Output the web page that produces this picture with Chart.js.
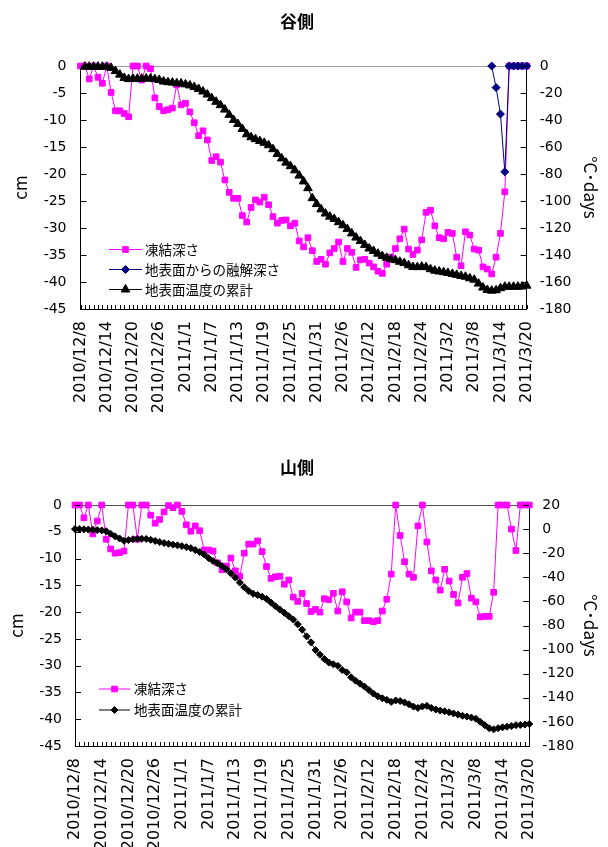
<!DOCTYPE html>
<html>
<head>
<meta charset="utf-8">
<script src="https://cdn.jsdelivr.net/npm/chart.js@4.4.1/dist/chart.umd.min.js"></script>
<style>
  html, body { margin: 0; padding: 0; background: #fff; width: 608px; height: 847px; overflow: hidden; }
  .panel { position: absolute; left: 0; width: 608px; }
  #valleyPanel { top: 0; height: 430px; }
  #slopePanel { top: 446px; height: 401px; }
  canvas { display: block; }
</style>
</head>
<body>
<div class="panel" id="valleyPanel"><canvas id="valleyChart" width="608" height="430"></canvas></div>
<div class="panel" id="slopePanel"><canvas id="slopeChart" width="608" height="401"></canvas></div>
<script>
// Daily observation dates, 2010/12/8 - 2011/3/20
const dateLabels = [
  '2010/12/8','2010/12/9','2010/12/10','2010/12/11','2010/12/12','2010/12/13','2010/12/14','2010/12/15',
  '2010/12/16','2010/12/17','2010/12/18','2010/12/19','2010/12/20','2010/12/21','2010/12/22','2010/12/23',
  '2010/12/24','2010/12/25','2010/12/26','2010/12/27','2010/12/28','2010/12/29','2010/12/30','2010/12/31',
  '2011/1/1','2011/1/2','2011/1/3','2011/1/4','2011/1/5','2011/1/6','2011/1/7','2011/1/8','2011/1/9',
  '2011/1/10','2011/1/11','2011/1/12','2011/1/13','2011/1/14','2011/1/15','2011/1/16','2011/1/17',
  '2011/1/18','2011/1/19','2011/1/20','2011/1/21','2011/1/22','2011/1/23','2011/1/24','2011/1/25',
  '2011/1/26','2011/1/27','2011/1/28','2011/1/29','2011/1/30','2011/1/31',
  '2011/2/1','2011/2/2','2011/2/3','2011/2/4','2011/2/5','2011/2/6','2011/2/7','2011/2/8','2011/2/9',
  '2011/2/10','2011/2/11','2011/2/12','2011/2/13','2011/2/14','2011/2/15','2011/2/16','2011/2/17',
  '2011/2/18','2011/2/19','2011/2/20','2011/2/21','2011/2/22','2011/2/23','2011/2/24','2011/2/25',
  '2011/2/26','2011/2/27','2011/2/28',
  '2011/3/1','2011/3/2','2011/3/3','2011/3/4','2011/3/5','2011/3/6','2011/3/7','2011/3/8','2011/3/9',
  '2011/3/10','2011/3/11','2011/3/12','2011/3/13','2011/3/14','2011/3/15','2011/3/16','2011/3/17',
  '2011/3/18','2011/3/19','2011/3/20'
];

// Dates that carry a printed label on the horizontal axis (every 6 days)
const labelledDates = [
  '2010/12/8','2010/12/14','2010/12/20','2010/12/26','2011/1/1','2011/1/7','2011/1/13','2011/1/19',
  '2011/1/25','2011/1/31','2011/2/6','2011/2/12','2011/2/18','2011/2/24','2011/3/2','2011/3/8',
  '2011/3/14','2011/3/20'
];

// 谷側: frost depth (cm)
const valleyFreeze = [
  0, 0, -2.4, 0, -2.1, -3.2, 0, -4.9, -8.3, -8.3, -8.8,
  -9.4, 0, 0, -2.6, 0, -0.5, -5.9, -7.5, -8.3, -8.1,
  -7.8, -3.5, -7.2, -6.9, -8.5, -10.5, -12.9, -12, -13.7, -17.5,
  -16.8, -17.8, -21.1, -23.4, -24.5, -24.5, -27.7, -28.9, -26.2, -24.8,
  -25.2, -24.3, -25.7, -27.9, -29.1, -28.6, -28.5, -29.6, -29.1, -32.4,
  -33.5, -31.8, -34.2, -36.2, -35.8, -36.7, -34.6, -33.8, -32.6, -36.2,
  -33.8, -34.5, -37.3, -35.9, -35.8, -36.5, -37.2, -38, -38.4, -36.7,
  -35.4, -33.8, -32, -30.2, -33.9, -34.9, -34.1, -32.2, -27.1, -26.7,
  -29.6, -31.8, -32, -30.8, -31, -35.4, -37, -30.7, -31.3, -33.9,
  -34.1, -37.2, -37.6, -38.5, -35.4, -31, -23.3, 0, 0, 0,
  0, 0
];

// 谷側: thaw depth from the ground surface (cm), only in the final weeks
const valleyThaw = [
  null, null, null, null, null, null, null, null, null, null, null,
  null, null, null, null, null, null, null, null, null, null,
  null, null, null, null, null, null, null, null, null, null,
  null, null, null, null, null, null, null, null, null, null,
  null, null, null, null, null, null, null, null, null, null,
  null, null, null, null, null, null, null, null, null, null,
  null, null, null, null, null, null, null, null, null, null,
  null, null, null, null, null, null, null, null, null, null,
  null, null, null, null, null, null, null, null, null, null,
  null, null, null, 0, -4, -8.9, -19.6, 0, 0, 0,
  0, 0
];

// 谷側: accumulated ground-surface temperature (°C·days)
const valleyTempSum = [
  null, -0.5, -0.5, -0.5, -0.5, -0.5, -0.6, -1.4, -3.8, -6.4, -8.8,
  -9.7, -9.5, -9.4, -9.4, -9.3, -9.3, -9.8, -10.3, -11.5, -12,
  -12.3, -12.8, -12.9, -13.6, -14.4, -15.6, -17, -18.9, -21.1, -23.8,
  -26.5, -29, -32.3, -36.2, -40, -43, -46.6, -50.6, -52.8, -54.2,
  -55.6, -56.9, -58.7, -61.6, -65.2, -68.5, -71.6, -74.2, -77.3, -81.2,
  -85.5, -90.5, -97.9, -102.3, -106.2, -109.3, -111.6, -113.3, -115.7, -118,
  -120.8, -124, -127.1, -129.7, -132.5, -135.2, -137, -139, -140.8, -142.1,
  -143.2, -143.8, -145, -146, -147.6, -148.9, -149, -148.6, -149, -150.5,
  -151.6, -152.2, -152.7, -153.3, -154, -154.7, -155.5, -156.1, -157.3, -158.3,
  -161.2, -164.1, -165.9, -166.4, -166.1, -164.6, -163.5, -163.5, -163.5, -163.5,
  -163.3, -162.7
];

// 山側: frost depth (cm)
const slopeFreeze = [
  0, 0, -2.4, 0, -5.4, -3, 0, -6.4, -8.2, -9, -8.9,
  -8.6, 0, 0, -6.4, 0, 0, -1.9, -3.4, -2.7, -1.3,
  -0.1, -0.5, 0, -1.2, -3.7, -4.9, -3.9, -4.8, -8.4, -8.4,
  -8.6, -10.8, -12.1, -11.4, -9.9, -12.3, -13.3, -9, -7.3, -7.3,
  -6.7, -8.7, -11.5, -13.7, -13.4, -13.3, -14.8, -14, -17.2, -18,
  -16.5, -18.4, -19.9, -19.5, -20, -17.5, -17.7, -16.5, -19.8, -16.2,
  -18.1, -21.1, -20, -20, -21.6, -21.6, -21.8, -21.6, -19.8, -17.6,
  -12.9, 0, -5.7, -10.6, -12.9, -13.5, -3.9, 0, -6.9, -12.3,
  -14, -15.9, -12, -14.2, -16.7, -18.3, -13.5, -12.8, -17.4, -18.1,
  -20.9, -20.8, -20.8, -16.3, 0, 0, 0, -4.5, -8.5, 0,
  0, 0
];

// 山側: accumulated ground-surface temperature (°C·days)
const slopeTempSum = [
  0, 0, -0.2, -0.4, -0.6, -0.8, -1.1, -1.7, -3.9, -6, -7.8,
  -9.7, -9.1, -8.4, -8.1, -8.1, -8.2, -8.9, -9.8, -10.8, -11.6,
  -12.2, -12.9, -13.5, -14.1, -14.9, -15.8, -17.4, -19.1, -21.1, -24.1,
  -26.5, -28.4, -30.7, -33.4, -36.7, -40.2, -44.4, -48.2, -51.3, -53.7,
  -54.7, -56.1, -57.9, -61, -64, -66.8, -69.5, -72.3, -75.1, -79,
  -83.5, -89, -94, -100.4, -104.2, -107.9, -110.8, -112.2, -113.4, -117,
  -118.9, -123, -125.8, -128.3, -130.7, -133.6, -136.5, -138.8, -140.4, -141.7,
  -143.4, -142.2, -142.7, -143.9, -145.4, -147.3, -148.4, -147.2, -146.7, -148.4,
  -149.7, -150.6, -151.2, -152, -153, -153.9, -154.9, -155.6, -156.4, -157.4,
  -159.9, -162.7, -165.2, -166.2, -165.2, -164.5, -164, -163.5, -162.7, -162.5,
  -162.2, -161.7
];

const TICK_FONT = { family: 'DejaVu Sans', size: 14 };
const DATE_FONT = { family: 'DejaVu Sans', size: 16 };
const JP_FONT = 'Noto Sans CJK JP';

// Short tick marks drawn on the inner side of every axis
const innerTicks = {
  id: 'innerTicks',
  afterDraw(chart, _args, opts) {
    const { ctx, chartArea: a, scales } = chart;
    ctx.save();
    ctx.strokeStyle = '#000';
    ctx.lineWidth = 1;
    ctx.beginPath();
    const px = v => Math.round(v) + 0.5;
    const xs = scales.x;
    for (let i = 0; i < chart.data.labels.length; i++) {
      const x = px(xs.getPixelForValue(i));
      ctx.moveTo(x, a.bottom);
      ctx.lineTo(x, a.bottom - opts.xLength);
    }
    scales.y.ticks.forEach(t => {
      const y = px(scales.y.getPixelForValue(t.value));
      ctx.moveTo(a.left, y);
      ctx.lineTo(a.left + opts.yLength, y);
    });
    scales.y2.ticks.forEach(t => {
      const y = px(scales.y2.getPixelForValue(t.value));
      ctx.moveTo(a.right, y);
      ctx.lineTo(a.right - opts.yLength, y);
    });
    ctx.stroke();
    ctx.restore();
  }
};

// Legend box placed inside the plot area
const insetLegend = {
  id: 'insetLegend',
  afterDraw(chart, _args, opts) {
    const ctx = chart.ctx;
    ctx.save();
    opts.rows.forEach((dsIndex, k) => {
      const ds = chart.data.datasets[dsIndex];
      const y = opts.y + k * opts.gap;
      const x0 = opts.x, x1 = opts.x + opts.lineLength;
      ctx.strokeStyle = ds.borderColor;
      ctx.lineWidth = ds.borderWidth;
      ctx.beginPath();
      ctx.moveTo(x0, y);
      ctx.lineTo(x1, y);
      ctx.stroke();
      ctx.fillStyle = ds.pointBackgroundColor;
      ctx.strokeStyle = ds.pointBorderColor;
      ctx.lineWidth = ds.pointBorderWidth;
      Chart.helpers.drawPoint(ctx, {
        pointStyle: ds.pointStyle, radius: ds.pointRadius, rotation: 0, borderWidth: ds.pointBorderWidth
      }, (x0 + x1) / 2, y);
      ctx.fillStyle = '#000';
      ctx.font = opts.fontSize + 'px "' + JP_FONT + '"';
      ctx.textAlign = 'left';
      ctx.textBaseline = 'middle';
      ctx.fillText(ds.label, x1 + opts.textGap, y);
    });
    ctx.restore();
  }
};

function seriesStyle(color, pointStyle, radius) {
  return {
    borderColor: color, backgroundColor: color,
    pointBackgroundColor: color, pointBorderColor: color,
    pointStyle: pointStyle, pointRadius: radius, pointBorderWidth: 1,
    pointHoverRadius: radius, borderWidth: 1, tension: 0, clip: false, spanGaps: false
  };
}

function makePanel(canvasId, spec) {
  return new Chart(document.getElementById(canvasId), {
    type: 'line',
    data: { labels: dateLabels, datasets: spec.datasets },
    plugins: [innerTicks, insetLegend],
    options: {
      responsive: false,
      animation: false,
      devicePixelRatio: 1,
      layout: { padding: { left: 0, right: 14, top: 0, bottom: 0 } },
      plugins: {
        legend: { display: false },
        tooltip: { enabled: false },
        title: {
          display: true, text: spec.title, color: '#000',
          font: { family: JP_FONT, size: 17, weight: 'bold' },
          padding: { top: 11.8, bottom: spec.titleGap }
        },
        innerTicks: { xLength: 4, yLength: 6 },
        insetLegend: spec.legend
      },
      scales: {
        x: {
          type: 'category',
          offset: false,
          afterFit: s => { s.height = spec.xAxisHeight; },
          grid: { display: false, drawTicks: false },
          border: { display: true, color: '#000', width: 1 },
          ticks: {
            autoSkip: false, minRotation: 90, maxRotation: 90, padding: 12,
            color: '#000', font: DATE_FONT,
            callback: (value, index) => labelledDates.includes(dateLabels[index]) ? dateLabels[index] : ''
          }
        },
        y: {
          position: 'left',
          min: -45, max: 0,
          afterFit: s => { s.width = spec.leftWidth; },
          grid: {
            drawTicks: false,
            color: ctx => ctx.tick && ctx.tick.value === 0 ? spec.topLineColor : 'rgba(0,0,0,0)'
          },
          border: { display: true, color: '#000', width: 1 },
          ticks: { stepSize: 5, padding: spec.leftPad, color: '#000', font: TICK_FONT },
          title: {
            display: true, text: 'cm', color: '#000',
            font: { family: JP_FONT, size: 17 }, padding: { top: spec.cmPad }
          }
        },
        y2: {
          position: 'right',
          min: spec.rightMin, max: spec.rightMax,
          afterFit: s => { s.width = spec.rightWidth; },
          grid: { display: false, drawTicks: false },
          border: { display: true, color: '#000', width: 1 },
          ticks: { stepSize: 20, padding: 13, color: '#000', font: TICK_FONT },
          title: {
            display: true, text: '°C･days', color: '#000',
            font: { family: JP_FONT, size: 17 }, padding: { top: -7 }
          }
        }
      }
    }
  });
}

makePanel('valleyChart', {
  title: '谷側',
  titleGap: 33.8,
  xAxisHeight: 121,
  leftWidth: 80.5,
  rightWidth: 67.3,
  leftPad: 14,
  cmPad: 10,
  rightMin: -180, rightMax: 0,
  topLineColor: '#9a9a9a',
  datasets: [
    Object.assign({ label: '凍結深さ', data: valleyFreeze, yAxisID: 'y', order: 3 },
      seriesStyle('#ff00ff', 'rect', 4)),
    Object.assign({ label: '地表面からの融解深さ', data: valleyThaw, yAxisID: 'y', order: 2 },
      seriesStyle('#000080', 'rectRot', 4)),
    Object.assign({ label: '地表面温度の累計', data: valleyTempSum, yAxisID: 'y2', order: 1 },
      seriesStyle('#000000', 'triangle', 5))
  ],
  legend: { rows: [0, 1, 2], x: 109, y: 249.5, gap: 20, lineLength: 33, textGap: 3, fontSize: 13.5 }
});

makePanel('slopeChart', {
  title: '山側',
  titleGap: 26.8,
  xAxisHeight: 101,
  leftWidth: 75,
  rightWidth: 64.7,
  leftPad: 13,
  cmPad: 6,
  rightMin: -180, rightMax: 20,
  topLineColor: '#505050',
  datasets: [
    Object.assign({ label: '凍結深さ', data: slopeFreeze, yAxisID: 'y', order: 2 },
      seriesStyle('#ff00ff', 'rect', 4)),
    Object.assign({ label: '地表面温度の累計', data: slopeTempSum, yAxisID: 'y2', order: 1 },
      seriesStyle('#000000', 'rectRot', 3.5))
  ],
  legend: { rows: [0, 1], x: 99, y: 243, gap: 21, lineLength: 31, textGap: 4, fontSize: 13.5 }
});
</script>
</body>
</html>
